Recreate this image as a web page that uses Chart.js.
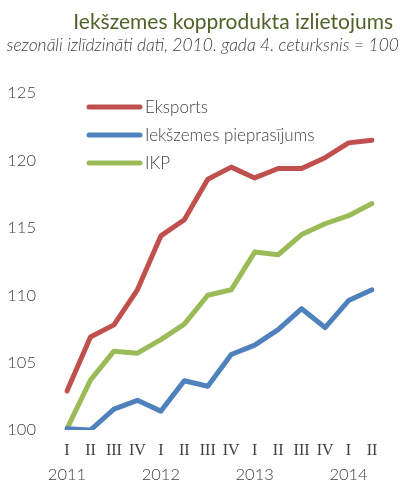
<!DOCTYPE html>
<html>
<head>
<meta charset="utf-8">
<script src="https://cdn.jsdelivr.net/npm/chart.js@4/dist/chart.umd.min.js"></script>
<style>
  html, body { margin: 0; padding: 0; background: #fff; }
</style>
</head>
<body>
<canvas id="chart" width="403" height="483"></canvas>
<script>
const quarters = ["I", "II", "III", "IV", "I", "II", "III", "IV", "I", "II", "III", "IV", "I", "II"];
const years = ["2011", "", "", "", "2012", "", "", "", "2013", "", "", "", "2014", ""];
const eksports = [102.9, 106.9, 107.8, 110.4, 114.4, 115.6, 118.6, 119.5, 118.7, 119.4, 119.4, 120.2, 121.3, 121.5];
const pieprasijums = [100.1, 100.0, 101.55, 102.2, 101.4, 103.65, 103.25, 105.6, 106.3, 107.45, 109.0, 107.6, 109.6, 110.4];
const ikp = [100.1, 103.7, 105.85, 105.7, 106.7, 107.85, 110.0, 110.4, 113.2, 113.0, 114.5, 115.3, 115.9, 116.8];
const seriesNames = ["Eksports", "Iekšzemes pieprasījums", "IKP"];

const titleText = "Iekšzemes kopprodukta izlietojums";
const subtitleText = "sezonāli izlīdzināti dati, 2010. gada 4. ceturksnis = 100";

const textGrey = "#404040";

// title + subtitle, right aligned
const headerPlugin = {
  id: "header",
  afterDraw(chart) {
    const ctx = chart.ctx;
    ctx.save();
    ctx.textAlign = "right";
    ctx.textBaseline = "alphabetic";
    ctx.fillStyle = "#4f6228";
    ctx.font = "21px Lato";
    ctx.fillText(titleText, 393, 29);
    ctx.fillStyle = textGrey;
    ctx.font = "italic 300 17.5px Lato";
    ctx.fillText(subtitleText, 399, 51);
    ctx.restore();
  }
};

// legend drawn inside the plot area
const legendPlugin = {
  id: "innerLegend",
  afterDraw(chart) {
    const ctx = chart.ctx;
    ctx.save();
    chart.data.datasets.forEach((ds, i) => {
      const y = 107 + i * 28;
      ctx.strokeStyle = ds.borderColor;
      ctx.lineWidth = 5;
      ctx.lineCap = "round";
      ctx.beginPath();
      ctx.moveTo(89, y);
      ctx.lineTo(140, y);
      ctx.stroke();
      ctx.fillStyle = textGrey;
      ctx.font = "300 17px Lato";
      ctx.textBaseline = "middle";
      ctx.fillText(ds.label, 145, y + 1);
    });
    ctx.restore();
  }
};

const line = (label, data, color) => ({
  label: label,
  data: data,
  borderColor: color,
  backgroundColor: color,
  borderWidth: 5,
  pointRadius: 0,
  tension: 0,
  borderCapStyle: "round",
  borderJoinStyle: "round",
  fill: false
});

new Chart(document.getElementById("chart"), {
  type: "line",
  data: {
    labels: quarters,
    datasets: [
      line(seriesNames[0], eksports, "#c0504d"),
      line(seriesNames[1], pieprasijums, "#4f81bd"),
      line(seriesNames[2], ikp, "#9bbb59")
    ]
  },
  options: {
    responsive: false,
    animation: false,
    layout: { padding: { top: 93, right: 31, left: 0, bottom: 0 } },
    plugins: {
      legend: { display: false },
      tooltip: { enabled: false }
    },
    scales: {
      x: {
        type: "category",
        offset: false,
        weight: 0,
        grid: { display: false, drawTicks: false },
        border: { display: false },
        ticks: {
          autoSkip: false,
          maxRotation: 0,
          padding: 11,
          color: textGrey,
          font: { family: "Liberation Serif", size: 16 }
        },
        afterFit: (s) => { s.height = 29; }
      },
      x2: {
        type: "category",
        position: "bottom",
        offset: false,
        weight: 1,
        labels: years,
        grid: { display: false, drawTicks: false },
        border: { display: false },
        ticks: {
          autoSkip: false,
          maxRotation: 0,
          padding: 6,
          color: textGrey,
          font: { family: "Lato", size: 16.5, weight: 300 }
        },
        afterFit: (s) => { s.height = 24; }
      },
      y: {
        min: 100,
        max: 125,
        grid: { display: false, drawTicks: false },
        border: { display: false },
        ticks: {
          stepSize: 5,
          padding: 31,
          color: textGrey,
          font: { family: "Lato", size: 16.5, weight: 300 }
        },
        afterFit: (s) => { s.width = 67; }
      }
    }
  },
  plugins: [headerPlugin, legendPlugin]
});
</script>
</body>
</html>
